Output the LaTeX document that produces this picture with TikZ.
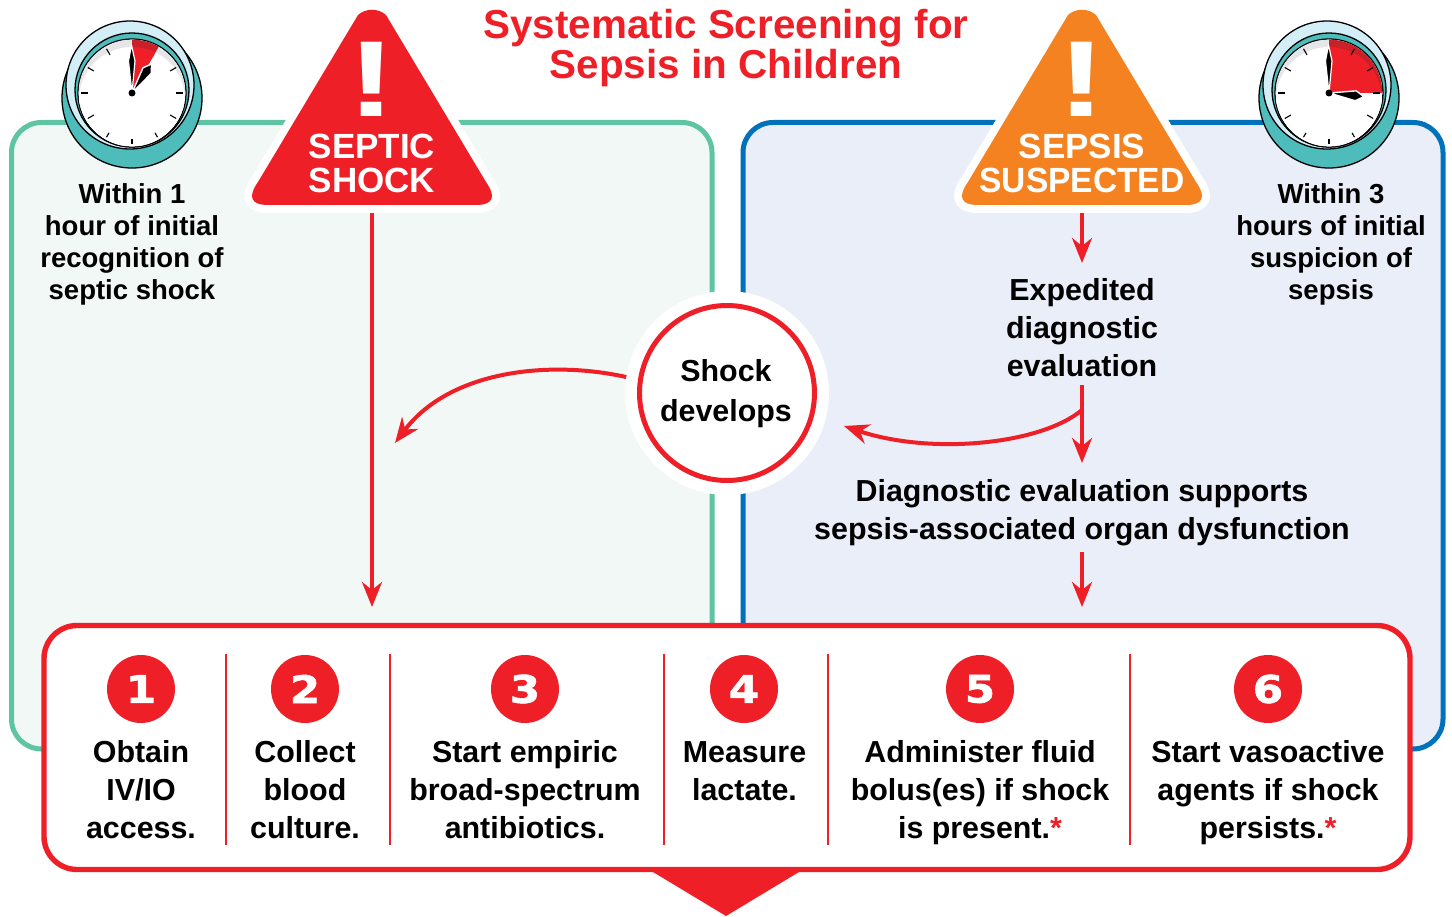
\documentclass[tikz,border=0pt]{standalone}
\usepackage{fontspec}
\setmainfont{Liberation Sans}
\newfontfamily\numfont[BoldFeatures={FakeBold=1.6,FakeStretch=1.15}]{DejaVu Sans}
\usetikzlibrary{arrows.meta}
\definecolor{red1}{HTML}{EF1F28}
\definecolor{red2}{HTML}{C9202A}
\definecolor{org}{HTML}{F58220}
\definecolor{grn}{HTML}{5EC4A3}
\definecolor{grnf}{HTML}{F2F8F6}
\definecolor{blu}{HTML}{0072BC}
\definecolor{bluf}{HTML}{EAEEF8}
\definecolor{teal1}{HTML}{4FBCBC}
\definecolor{ring}{HTML}{D3EEF7}
\definecolor{band}{HTML}{E4E6E8}
\tikzset{
  panel/.style={draw=#1,line width=5pt,rounded corners=30pt,inner sep=0pt,outer sep=0pt},
  flow/.style={draw=red1,line width=4pt,-{Stealth[length=25pt,width=20pt,inset=8pt]}},
  body/.style={inner sep=0pt,outer sep=0pt,align=center,font=\bfseries\fontsize{30.4}{38}\selectfont},
  small/.style={inner sep=0pt,outer sep=0pt,align=center,font=\bfseries\fontsize{27.5}{32}\selectfont},
  title/.style={inner sep=0pt,outer sep=0pt,align=center,text=red1,font=\bfseries\fontsize{40.4}{40}\selectfont},
  signtxt/.style={inner sep=0pt,outer sep=0pt,align=center,text=white,font=\bfseries\fontsize{35}{34}\selectfont},
  bang/.style={inner sep=0pt,outer sep=0pt,text=white,xscale=1.35,font=\bfseries\fontsize{108}{108}\selectfont},
  numdisc/.style={circle,fill=red1,minimum size=68pt,inner sep=0pt,outer sep=0pt,text=white,font=\numfont\bfseries\fontsize{38}{38}\selectfont},
  divider/.style={draw=red1,line width=2.6pt},
  tick/.style={draw=black,line width=1.1pt},
}
\newcommand{\signpath}{(358,15) .. controls (366,8) and (378,8) .. (386,15) -- (486,182) .. controls (496,196) and (494,205) .. (476,205) -- (268,205) .. controls (250,205) and (248,196) .. (258,182) -- cycle}
\newcommand{\clockdraw}[3]{%
 \begin{scope}[shift={(#1,93)}]
  \draw[fill=teal1,line width=1.3pt] (0,5) circle[radius=70pt];
  \draw[fill=ring,line width=1.3pt] (-2,-8) circle[radius=64pt];
  \draw[fill=teal1,line width=1.3pt] (0,-3) circle[radius=57pt];
  \draw[fill=white,line width=1.3pt] (0,0) circle[radius=54pt];
  \begin{scope}
   \clip (0,0) circle[radius=53.4pt];
   \fill[band] (0,0) circle[radius=54pt];
   \fill[white] (0,7) circle[radius=53pt];
   #3
  \end{scope}
  \foreach \a in {-30,0,30,150,180,210,240}{\draw[tick] (\a:44) -- (\a:51);}
  \foreach \a in {60,90,120}{\draw[tick] (\a:46) -- (\a:51);}
  \draw[fill=black,draw=white,line width=1.2pt,line join=round] (0,0) -- (-3.5,-32) -- (-0.5,-48) -- (3,-32) -- cycle;
  \draw[fill=black,draw=white,line width=1.4pt,line join=round,rotate=-#2] (0,0) -- (-5,-27) -- (0,-35) -- (5,-27) -- cycle;
  \fill[black] (0,0) circle[radius=3.5pt];
 \end{scope}}
\begin{document}
\begin{tikzpicture}[x=1pt,y=-1pt]
\useasboundingbox (0,0) rectangle (1452,917);
% panels
\node[panel=grn,fill=grnf,minimum width=700.5pt,minimum height=626.5pt] (pL) at (361.75,435.75) {};
\node[panel=blu,fill=bluf,minimum width=700pt,minimum height=626.5pt] (pR) at (1093,435.75) {};
% clocks
\clockdraw{132}{34}{
  \fill[red2] (0,0) -- (-90:70) -- (-60:70) -- cycle;
  \begin{scope}\clip (0,7) circle[radius=53pt];
  \fill[red1] (0,0) -- (-90:70) -- (-60:70) -- cycle;\end{scope}}
\clockdraw{1329}{96}{
  \fill[red2] (0,0) -- (0,-70) -- (70,-70) -- (70,0) -- cycle;
  \begin{scope}\clip (0,7) circle[radius=53pt];
  \fill[red1] (0,0) -- (0,-70) -- (70,-70) -- (70,0) -- cycle;\end{scope}
  \draw[tick] (-60:44) -- (-60:51);}
% arrows under the signs
\coordinate (ssOut) at (372,213);
\coordinate (ssIn) at (372,607);
\coordinate (susOut) at (1082,213);
\coordinate (evalIn) at (1082,263);
\coordinate (evalOut) at (1082,385);
\coordinate (diagIn) at (1082,463);
\coordinate (fork) at (1082,410);
\coordinate (shockIn) at (844,426);
\coordinate (leftIn) at (395,443);
\coordinate (diagOut) at (1082,552);
\coordinate (boxIn) at (1082,607);
\draw[flow] (ssOut) -- (ssIn);
\draw[flow] (susOut) -- (evalIn);
\draw[flow] (evalOut) -- (diagIn);
\draw[flow] (diagOut) -- (boxIn);
\draw[flow] (fork) .. controls (1040,445) and (930,455) .. (shockIn);
% signs
\draw[white,line width=16pt,line join=round,fill=white] \signpath;
\fill[red1] \signpath;
\begin{scope}[xshift=710pt]
\draw[white,line width=16pt,line join=round,fill=white] \signpath;
\fill[org] \signpath;
\end{scope}
\node[bang] (bangL) at (372,79) {!};
\node[bang] (bangR) at (1082,79) {!};
\node[signtxt] (ss) at (372,163) {SEPTIC\\SHOCK};
\node[signtxt] (sus) at (1082,163) {SEPSIS\\\scalebox{0.958}[1]{SUSPECTED}};
% title
\node[title] (ttl) at (726,48) {Systematic Screening for\\Sepsis in Children};
% time notes
\node[small] (t1) at (132,244.5) {Within 1\\hour of initial\\recognition of\\septic shock};
\node[small] (t3) at (1331,244.5) {Within 3\\hours of initial\\suspicion of\\sepsis};
% shock
\node[circle,fill=white,minimum size=204pt,inner sep=0pt,outer sep=0pt] (halo) at (727,393) {};
\node[circle,draw=red1,fill=white,line width=5pt,minimum size=175pt,inner sep=0pt,outer sep=0pt] (shock) at (727,393) {};
\node[body,font=\bfseries\fontsize{30.4}{40}\selectfont] (shocktxt) at (726,394) {Shock\\develops};
\draw[flow] (halo.171) .. controls (550,360) and (450,370) .. (leftIn);
\node[body] (exp) at (1082,327.5) {Expedited\\diagnostic\\evaluation};
\node[body] (diag) at (1082,513) {Diagnostic evaluation supports\\sepsis-associated organ dysfunction};
% bottom box
\node[panel=red1,fill=white,rounded corners=33pt,line width=5.4pt,minimum width=1366pt,minimum height=244pt] (box) at (727,747.5) {};
\fill[red1] (648,869) -- (804,869) -- (726,916) -- cycle;
\foreach \x in {226,390,664,828,1130}{\draw[divider] (\x,654) -- (\x,845);}
\node[numdisc] (n1) at (141,689) {1};
\node[numdisc] (n2) at (305,689) {2};
\node[numdisc] (n3) at (525,689) {3};
\node[numdisc] (n4) at (744,689) {4};
\node[numdisc] (n5) at (980,689) {5};
\node[numdisc] (n6) at (1268,689) {6};
\node[body] (s1) at (141,790) {Obtain\\IV/IO\\access.};
\node[body] (s2) at (305,790) {Collect\\blood\\culture.};
\node[body] (s3) at (525,790) {Start empiric\\broad-spectrum\\antibiotics.};
\node[body] (s4) at (744.5,771) {Measure\\lactate.};
\node[body] (s5) at (980,793) {Administer fluid\\bolus(es) if shock\\is present.\textcolor{red1}{*}};
\node[body] (s6) at (1268,793) {Start vasoactive\\agents if shock\\persists.\textcolor{red1}{*}};
\end{tikzpicture}
\end{document}
